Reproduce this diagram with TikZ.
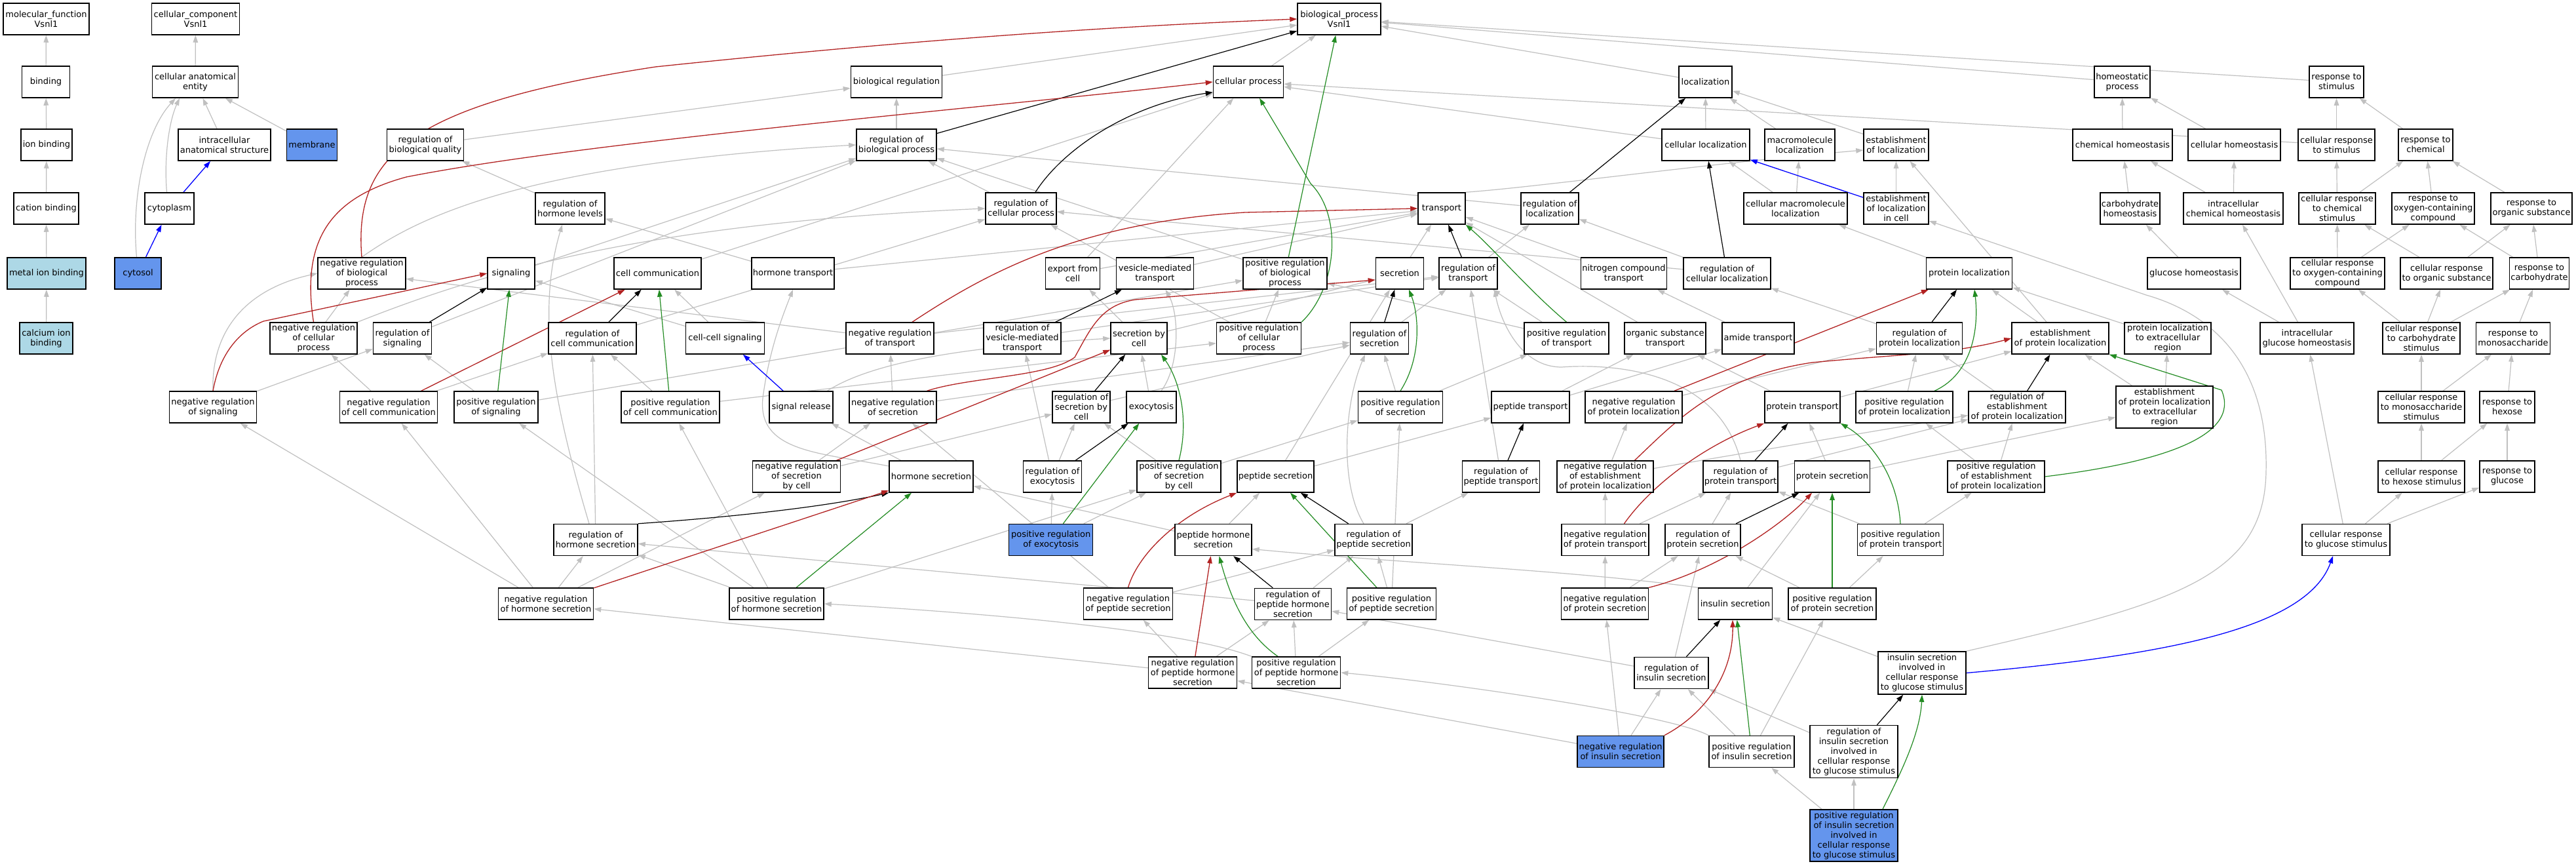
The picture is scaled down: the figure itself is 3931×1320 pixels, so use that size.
\documentclass[tikz,border=0pt]{standalone}
\usepackage{fontspec}
\setmainfont{DejaVu Sans}
\usetikzlibrary{arrows.meta}
\definecolor{eg}{RGB}{192,192,192}
\definecolor{nred}{RGB}{178,34,34}
\definecolor{pgreen}{RGB}{34,139,34}
\definecolor{cblue}{RGB}{100,149,237}
\definecolor{lblue}{RGB}{173,216,230}
\pgfdeclarelayer{bg}
\pgfdeclarelayer{paper}
\pgfsetlayers{paper,bg,main}
\tikzset{
 gonode/.style={draw=black, line width=1.5pt, fill=white, minimum height=48pt, inner xsep=1.5pt, inner ysep=2pt, align=center, font=\fontsize{13}{15}\selectfont},
 gotip/.style={-{Triangle[length=11pt,width=7.5pt]}},
 isa/.style={color=eg, line width=1.2pt, gotip},
 regl/.style={color=black, line width=1.2pt, gotip},
 negr/.style={color=nred, line width=1.3pt, gotip},
 posr/.style={color=pgreen, line width=1.2pt, gotip},
 partof/.style={color=blue, line width=1.3pt, gotip}
}
\newcommand\gn[6][]{\node[gonode,#1,minimum width=#5pt] (#2) at (#3,#4) {#6};}
\begin{document}
\begin{tikzpicture}[x=1pt,y=-1pt]
\begin{pgfonlayer}{paper}
\fill[white] (0,0) rectangle (3931,1320);
\end{pgfonlayer}
\useasboundingbox (0,0) rectangle (3931,1320);
% row 1
\gn{mf}{70.5}{29}{131}{molecular\_function\\Vsnl1}
\gn{cc}{298.5}{29}{134}{cellular\_component\\Vsnl1}
\gn{bp}{2043.5}{29}{127}{biological\_process\\Vsnl1}
% row 2
\gn{binding}{70}{125}{73}{binding}
\gn{cae}{298}{125}{131}{cellular anatomical\\entity}
\gn{bioreg}{1368}{125}{139}{biological regulation}
\gn{cellproc}{1905}{125}{107}{cellular process}
\gn{localization}{2602.5}{125}{81}{localization}
\gn{homeo}{3238.5}{125}{85}{homeostatic\\process}
\gn{rts}{3565.5}{125}{83}{response to\\stimulus}
% row 3
\gn{ionbind}{71}{221}{78}{ion binding}
\gn{ias}{342.5}{221}{141}{intracellular\\anatomical structure}
\gn[fill=cblue]{membrane}{476}{221}{77}{membrane}
\gn{rbq}{649}{221}{117}{regulation of\\biological quality}
\gn{rbp}{1368}{221}{122}{regulation of\\biological process}
\gn{cellloc}{2603}{221}{134}{cellular localization}
\gn{macroloc}{2746.5}{221}{107}{macromolecule\\localization}
\gn{estloc}{2893.5}{221}{99}{establishment\\of localization}
\gn{chemhomeo}{3239}{221}{152}{chemical homeostasis}
\gn{cellhomeo}{3409.5}{221}{141}{cellular homeostasis}
\gn{crs}{3565.5}{221}{117}{cellular response\\to stimulus}
\gn{rtc}{3701.5}{221}{83}{response to\\chemical}
% row 4
\gn{cationbind}{70.5}{318}{99}{cation binding}
\gn{cytoplasm}{258.5}{318}{75}{cytoplasm}
\gn{rhl}{870}{318}{106}{regulation of\\hormone levels}
\gn{rcp}{1558}{318}{108}{regulation of\\cellular process}
\gn{transport}{2200}{318}{72}{transport}
\gn{regloc}{2365}{318}{88}{regulation of\\localization}
\gn{cmloc}{2740}{318}{158}{cellular macromolecule\\localization}
\gn{estlocincell}{2893.5}{318}{99}{establishment\\of localization\\in cell}
\gn{carbohomeo}{3250.5}{318}{91}{carbohydrate\\homeostasis}
\gn{icheh}{3408}{318}{152}{intracellular\\chemical homeostasis}
\gn{crcs}{3566.5}{318}{117}{cellular response\\to chemical\\stimulus}
\gn{rtocc}{3713}{318}{126}{response to\\oxygen-containing\\compound}
\gn{rtos}{3863}{318}{124}{response to\\organic substance}
% row 5
\gn[fill=lblue]{metalion}{71}{417}{120}{metal ion binding}
\gn[fill=cblue]{cytosol}{210.5}{417}{71}{cytosol}
\gn{nrbp}{552}{417}{134}{negative regulation\\of biological\\process}
\gn{signaling}{780}{417}{72}{signaling}
\gn{cellcomm}{1003.5}{417}{133}{cell communication}
\gn{hormonetransport}{1210}{417}{126}{hormone transport}
\gn{exportcell}{1637}{417}{83}{export from\\cell}
\gn{vmt}{1762.5}{417}{118}{vesicle-mediated\\transport}
\gn{prbp}{1961}{417}{128}{positive regulation\\of biological\\process}
\gn{secretion}{2136}{417}{73}{secretion}
\gn{regtransport}{2240.5}{417}{89}{regulation of\\transport}
\gn{nct}{2478}{417}{131}{nitrogen compound\\transport}
\gn{rcl}{2635.5}{417}{133}{regulation of\\cellular localization}
\gn{protloc}{3005}{417}{131}{protein localization}
\gn{glucosehomeo}{3348}{417}{142}{glucose homeostasis}
\gn{crocc}{3567}{417}{144}{cellular response\\to oxygen-containing\\compound}
\gn{crtos}{3733.5}{417}{141}{cellular response\\to organic substance}
\gn{rtcarb}{3875}{417}{91}{response to\\carbohydrate}
% row 6
\gn[fill=lblue]{calcium}{70.5}{516}{81}{calcium ion\\binding}
\gn{nrcp}{478.5}{516}{133}{negative regulation\\of cellular\\process}
\gn{rsig}{614}{516}{89}{regulation of\\signaling}
\gn{rcc}{904}{516}{134}{regulation of\\cell communication}
\gn{ccsig}{1106.5}{516}{120}{cell-cell signaling}
\gn{nrt}{1358}{516}{134}{negative regulation\\of transport}
\gn{rvmt}{1560}{516}{118}{regulation of\\vesicle-mediated\\transport}
\gn{secbycell}{1738}{516}{86}{secretion by\\cell}
\gn{prcp}{1921}{516}{129}{positive regulation\\of cellular\\process}
\gn{regsec}{2105}{516}{89}{regulation of\\secretion}
\gn{prt}{2390.5}{516}{129}{positive regulation\\of transport}
\gn{ost}{2541}{516}{124}{organic substance\\transport}
\gn{amide}{2683}{516}{110}{amide transport}
\gn{rpl}{2929}{516}{131}{regulation of\\protein localization}
\gn{epl}{3144}{516}{148}{establishment\\of protein localization}
\gn{plter}{3308}{516}{132}{protein localization\\to extracellular\\region}
\gn{icgh}{3520.5}{516}{143}{intracellular\\glucose homeostasis}
\gn{crcarb}{3695}{516}{118}{cellular response\\to carbohydrate\\stimulus}
\gn{rtmono}{3835}{516}{113}{response to\\monosaccharide}
% row 7
\gn{nrsig}{325}{621}{133}{negative regulation\\of signaling}
\gn{nrcc}{593}{621}{149}{negative regulation\\of cell communication}
\gn{prsig}{757}{621}{128}{positive regulation\\of signaling}
\gn{prcc}{1023}{621}{150}{positive regulation\\of cell communication}
\gn{sigrelease}{1222.5}{621}{97}{signal release}
\gn{nrsec}{1362.5}{621}{133}{negative regulation\\of secretion}
\gn{rsbc}{1650}{621}{88}{regulation of\\secretion by\\cell}
\gn{exocytosis}{1757}{621}{76}{exocytosis}
\gn{prsec}{2137}{621}{129}{positive regulation\\of secretion}
\gn{pepttransport}{2335.5}{621}{119}{peptide transport}
\gn{nrpl}{2493}{621}{148}{negative regulation\\of protein localization}
\gn{proteintransport}{2750.5}{621}{115}{protein transport}
\gn{prpl}{2906}{621}{148}{positive regulation\\of protein localization}
\gn{repl}{3078}{621}{148}{regulation of\\establishment\\of protein localization}
\gn[minimum height=64pt]{eplter}{3303}{621}{148}{establishment\\of protein localization\\to extracellular\\region}
\gn{crmono}{3695}{621}{132}{cellular response\\to monosaccharide\\stimulus}
\gn{rthexose}{3826}{621}{84}{response to\\hexose}
% row 8
\gn{nrsbc}{1215.5}{727}{134}{negative regulation\\of secretion\\by cell}
\gn{hormonesec}{1421}{727}{128}{hormone secretion}
\gn{rexo}{1606}{727}{89}{regulation of\\exocytosis}
\gn{prsbc}{1799}{727}{128}{positive regulation\\of secretion\\by cell}
\gn{peptidesec}{1946.5}{727}{117}{peptide secretion}
\gn{rpt}{2290.5}{727}{118}{regulation of\\peptide transport}
\gn{nrepl}{2449.5}{727}{147}{negative regulation\\of establishment\\of protein localization}
\gn{rptrans}{2656}{727}{114}{regulation of\\protein transport}
\gn{proteinsec}{2796}{727}{115}{protein secretion}
\gn{prepl}{3046}{727}{148}{positive regulation\\of establishment\\of protein localization}
\gn{crhexose}{3695}{727}{132}{cellular response\\to hexose stimulus}
\gn{rtglucose}{3826}{727}{84}{response to\\glucose}
% row 9
\gn{rhs}{909}{823.5}{128}{regulation of\\hormone secretion}
\gn[fill=cblue]{prexo}{1603.7}{823.5}{128}{positive regulation\\of exocytosis}
\gn{phs}{1851.5}{823.5}{117}{peptide hormone\\secretion}
\gn{rps}{2096}{823.5}{118}{regulation of\\peptide secretion}
\gn{nrpt}{2449.5}{823.5}{133}{negative regulation\\of protein transport}
\gn{rprotsec}{2598.5}{823.5}{115}{regulation of\\protein secretion}
\gn{prpt}{2900}{823.5}{131}{positive regulation\\of protein transport}
\gn{crglucose}{3580}{823.5}{134}{cellular response\\to glucose stimulus}
% row 10
\gn{nrhs}{833}{921}{145}{negative regulation\\of hormone secretion}
\gn{prhs}{1185}{921}{144}{positive regulation\\of hormone secretion}
\gn{nrps}{1721.5}{921}{136}{negative regulation\\of peptide secretion}
\gn{rphs}{1973}{921.5}{117}{regulation of\\peptide hormone\\secretion}
\gn{prps}{2123.5}{921}{136}{positive regulation\\of peptide secretion}
\gn{nrprotsec}{2449}{921}{133}{negative regulation\\of protein secretion}
\gn{insulinsec}{2648}{921}{113}{insulin secretion}
\gn{prprotsec}{2796}{921}{134}{positive regulation\\of protein secretion}
% row 11
\gn{nrphs}{1820}{1026}{135}{negative regulation\\of peptide hormone\\secretion}
\gn{prphs}{1978}{1026}{135}{positive regulation\\of peptide hormone\\secretion}
\gn{ris}{2550.5}{1026.5}{113}{regulation of\\insulin secretion}
\gn[minimum height=65pt]{iscgs}{2933}{1026.5}{134}{insulin secretion\\involved in\\cellular response\\to glucose stimulus}
% row 12
\gn[fill=cblue]{nris}{2473}{1146.5}{132}{negative regulation\\of insulin secretion}
\gn{pris}{2673}{1146.5}{130}{positive regulation\\of insulin secretion}
\gn[minimum height=80pt]{risgs}{2829}{1146.7}{134}{regulation of\\insulin secretion\\involved in\\cellular response\\to glucose stimulus}
\gn[fill=cblue,minimum height=79pt]{prisgs}{2829}{1274.5}{134}{positive regulation\\of insulin secretion\\involved in\\cellular response\\to glucose stimulus}

\begin{pgfonlayer}{bg}
% is_a edges (straight)
\foreach \a/\b in {binding/mf, ionbind/binding, cationbind/ionbind, metalion/cationbind, calcium/metalion,
 cae/cc, ias/cae, membrane/cae,
 bioreg/bp, cellproc/bp, localization/bp, homeo/bp, rts/bp,
 rbq/bioreg, rbp/bioreg, rhl/rbq,
 prbp/rbp, rcp/rbp, regloc/rbp, rsig/rbp, signaling/rbp,
 cellcomm/cellproc, cellloc/cellproc, crs/cellproc, exportcell/cellproc,
 nrcp/nrbp, prcp/prbp, prcp/rcp, rcc/rcp,
 nrsig/rsig, nrcc/nrcp, nrcc/rcc, prsig/rsig, prsig/prbp, prcc/rcc, prcc/prcp,
 ccsig/signaling, ccsig/cellcomm,
 hormonetransport/rhl, hormonetransport/transport, hormonesec/sigrelease,
 rhs/rcc,
 nrhs/rhs, nrhs/nrsig, nrhs/nrcc, nrhs/nrsbc, prhs/rhs, prhs/prsig, prhs/prcc, prhs/prsbc,
 cellloc/localization, macroloc/localization, estloc/localization,
 cmloc/cellloc, cmloc/macroloc, estlocincell/estloc, rcl/regloc, rcl/rcp,
 secretion/transport, regtransport/regloc, nct/transport, protloc/cmloc,
 chemhomeo/homeo, cellhomeo/homeo, crs/rts, rtc/rts,
 carbohomeo/chemhomeo, icheh/chemhomeo, icheh/cellhomeo, crcs/crs, crcs/rtc, rtocc/rtc, rtos/rtc,
 glucosehomeo/carbohomeo, crocc/crcs, crocc/rtocc, crtos/crcs, crtos/rtos, rtcarb/rtocc, rtcarb/rtos,
 icgh/glucosehomeo, icgh/icheh, crcarb/crocc, crcarb/crtos, crcarb/rtcarb, rtmono/rtcarb,
 crmono/crcarb, crmono/rtmono, rthexose/rtmono, crhexose/crmono, crhexose/rthexose, rtglucose/rthexose,
 crglucose/crhexose, crglucose/rtglucose, crglucose/icgh,
 nrt/nrbp, nrt/regtransport, rvmt/regtransport,
 secbycell/secretion, secbycell/exportcell, exportcell/transport, vmt/transport,
 regsec/regtransport, prt/regtransport, prt/prbp,
 ost/transport, amide/nct, rpl/rcl,
 epl/protloc, epl/estloc, plter/protloc,
 nrsec/nrt, nrsec/regsec, rsbc/regsec, exocytosis/secbycell, prsec/regsec, prsec/prt,
 pepttransport/amide, pepttransport/ost,
 nrpl/rpl, proteintransport/ost, proteintransport/epl, prpl/rpl, repl/rpl, eplter/epl, eplter/plter,
 nrsbc/nrsec, nrsbc/rsbc, rexo/rsbc, rexo/rvmt, prsbc/rsbc, prsbc/prsec,
 peptidesec/secretion, peptidesec/pepttransport, rpt/regtransport,
 nrepl/nrpl, nrepl/repl, rptrans/repl, proteinsec/proteintransport, proteinsec/eplter, prepl/repl, prepl/prpl,
 prexo/rexo, prexo/prsbc, phs/peptidesec, phs/hormonesec, rps/rpt,
 nrpt/nrepl, nrpt/rptrans, rprotsec/rptrans, prpt/rptrans, prpt/prepl,
 nrps/rps, nrps/nrsec, rphs/rps, rphs/rhs, prps/rps, prps/prsec,
 nrprotsec/nrpt, nrprotsec/rprotsec, insulinsec/proteinsec, prprotsec/rprotsec, prprotsec/prpt,
 nrphs/nrps, nrphs/rphs, nrphs/nrhs, prphs/prps, prphs/rphs,
 ris/rphs, ris/rprotsec, iscgs/insulinsec,
 nris/ris, nris/nrphs, nris/nrprotsec, pris/ris, pris/prprotsec, risgs/ris,
 prisgs/pris, prisgs/risgs}
 {\draw[isa] (\a) -- (\b);}
% is_a edges (curved)
\draw[isa] ([xshift=-4pt]cytoplasm.north) .. controls (250,240) and (258,185) .. ([xshift=-24pt]cae.south);
\draw[isa] ([xshift=-2pt]cytosol.north) .. controls (200,300) and (222,200) .. ([xshift=-30pt]cae.south);
\draw[isa] (nrbp.north) .. controls (640,330) and (800,250) .. (rbp.west);
\draw[isa] (nrsig.north) .. controls (322,500) and (380,440) .. (nrbp.west);
\draw[isa] (nrcp.north east) .. controls (750,410) and (1000,340) .. (rcp.west);
\draw[isa] ([xshift=-10pt]rhs.north) .. controls (840,600) and (820,470) .. ([xshift=-12pt]rhl.south);
\draw[isa] ([xshift=40pt]sigrelease.north) .. controls (1350,540) and (1550,525) .. (secbycell.west);
\draw[isa] ([yshift=16pt]hormonesec.west) .. controls (1250,690) and (1150,690) .. (1165,600) .. controls (1175,530) and (1195,480) .. (hormonetransport.south);
\draw[isa] ([xshift=15pt]exocytosis.north) .. controls (1800,560) and (1800,480) .. ([xshift=16pt]vmt.south);
\draw[isa] (transport.north east) .. controls (2350,285) and (2600,250) .. ([yshift=-8pt]estloc.west);
\draw[isa] (rptrans.north) .. controls (2620,560) and (2450,555) .. (2383,560) .. controls (2320,560) and (2290,490) .. ([xshift=40pt]regtransport.south);
\draw[isa] ([xshift=-15pt]rps.north) .. controls (2045,740) and (2050,620) .. ([xshift=-22pt]regsec.south);
\draw[isa] (insulinsec.north west) .. controls (2400,870) and (2150,860) .. ([yshift=-14pt]phs.east);
\draw[isa] (pris.north west) .. controls (2550,1090) and (2200,1040) .. (prphs.east);
\draw[isa] (prphs.north west) .. controls (1800,960) and (1500,935) .. (prhs.east);
\draw[isa] (iscgs.north east) .. controls (3320,920) and (3455,880) .. (3458,720) .. controls (3462,560) and (3380,480) .. (3275,450) -- ([yshift=-19pt]estlocincell.east);
% regulates (black)
\draw[regl] (rbp) -- (bp);
\draw[regl] ([xshift=22pt]rcp.north) .. controls (1620,230) and (1720,160) .. ([yshift=9pt]cellproc.south west);
\draw[regl] (rsig) -- (signaling);
\draw[regl] (rcc) -- (cellcomm);
\draw[regl] (rvmt) -- (vmt);
\draw[regl] (regloc) -- (localization);
\draw[regl] (rcl) -- (cellloc);
\draw[regl] (regtransport) -- (transport);
\draw[regl] (regsec) -- (secretion);
\draw[regl] (rsbc) -- (secbycell);
\draw[regl] (rexo) -- (exocytosis);
\draw[regl] (rhs.north east) .. controls (1100,790) and (1250,775) .. (hormonesec.south west);
\draw[regl] (rps) -- (peptidesec);
\draw[regl] (rphs) -- (phs);
\draw[regl] (rpt) -- (pepttransport);
\draw[regl] (rpl) -- (protloc);
\draw[regl] (repl) -- (epl);
\draw[regl] (rptrans) -- (proteintransport);
\draw[regl] (rprotsec) -- (proteinsec);
\draw[regl] (ris) -- (insulinsec);
\draw[regl] (risgs) -- (iscgs);
% negatively regulates (red)
\draw[negr] (nrbp.north) .. controls (540,240) and (620,160) .. (1000,102) .. controls (1400,60) and (1700,40) .. (bp.west);
\draw[negr] (nrcp.north) .. controls (458,360) and (510,300) .. (620,270) .. controls (900,215) and (1500,165) .. (cellproc.west);
\draw[negr] (nrsig.north) .. controls (335,540) and (365,505) .. (402,490) -- (signaling.west);
\draw[negr] (nrcc) -- (cellcomm);
\draw[negr] ([xshift=34pt]nrt.north) .. controls (1500,420) and (1640,340) .. (1900,324) -- (transport.west);
\draw[negr] ([xshift=52pt]nrsec.north) .. controls (1480,575) and (1600,575) .. (1640,545) .. controls (1665,500) and (1680,465) .. (1733,457) -- ([yshift=-10pt]secretion.west);
\draw[negr] (nrsbc) -- (secbycell);
\draw[negr] (nrhs) -- (hormonesec);
\draw[negr] (nrps.north) .. controls (1735,850) and (1790,790) .. (peptidesec.south west);
\draw[negr] (nrphs) -- (phs);
\draw[negr] (nrpl) -- (protloc);
\draw[negr] ([xshift=45pt]nrepl.north) .. controls (2560,640) and (2620,575) .. (2765,553) .. controls (2900,540) and (2980,540) .. (epl.west);
\draw[negr] ([xshift=29pt]nrpt.north) .. controls (2520,740) and (2600,680) .. (proteintransport.south west);
\draw[negr] (nrprotsec.north east) .. controls (2620,870) and (2720,800) .. ([xshift=-31pt]proteinsec.south);
\draw[negr] (nris.north east) .. controls (2600,1090) and (2645,1030) .. ([xshift=-4pt]insulinsec.south);
% positively regulates (green)
\draw[posr] (prbp) -- (bp);
\draw[posr] (prcp.north east) .. controls (2040,440) and (2050,330) .. (2000,280) -- ([xshift=17pt]cellproc.south);
\draw[posr] (prsig) -- (signaling);
\draw[posr] (prcc) -- (cellcomm);
\draw[posr] (prt.north) .. controls (2330,440) and (2280,380) .. (transport.south east);
\draw[posr] (prsec.north) .. controls (2170,545) and (2165,480) .. ([xshift=14pt]secretion.south);
\draw[posr] (prsbc.north) .. controls (1815,640) and (1800,580) .. ([xshift=34pt]secbycell.south);
\draw[posr] (prexo) -- (exocytosis);
\draw[posr] (prhs) -- (hormonesec);
\draw[posr] (prps) -- (peptidesec);
\draw[posr] ([xshift=-28pt]prphs.north) .. controls (1905,970) and (1880,920) .. ([xshift=9pt]phs.south);
\draw[posr] ([xshift=46pt]prpl.north) .. controls (3010,570) and (3020,500) .. ([xshift=8pt]protloc.south);
\draw[posr] (prepl.east) .. controls (3300,705) and (3420,665) .. (3390,595) -- (epl.south east);
\draw[posr] (prpt.north) .. controls (2895,720) and (2850,670) .. (proteintransport.south east);
\draw[posr] (prprotsec) -- (proteinsec);
\draw[posr] (pris) -- (insulinsec);
\draw[posr] ([xshift=44pt]prisgs.north) .. controls (2900,1180) and (2930,1120) .. (iscgs.south);
% part_of (blue)
\draw[partof] (cytoplasm) -- (ias);
\draw[partof] (cytosol) -- (cytoplasm);
\draw[partof] (estlocincell) -- (cellloc);
\draw[partof] (sigrelease) -- (ccsig);
\draw[partof] (iscgs.east) .. controls (3300,1000) and (3520,960) .. ([xshift=-20pt]crglucose.south);
\end{pgfonlayer}
\end{tikzpicture}
\end{document}
